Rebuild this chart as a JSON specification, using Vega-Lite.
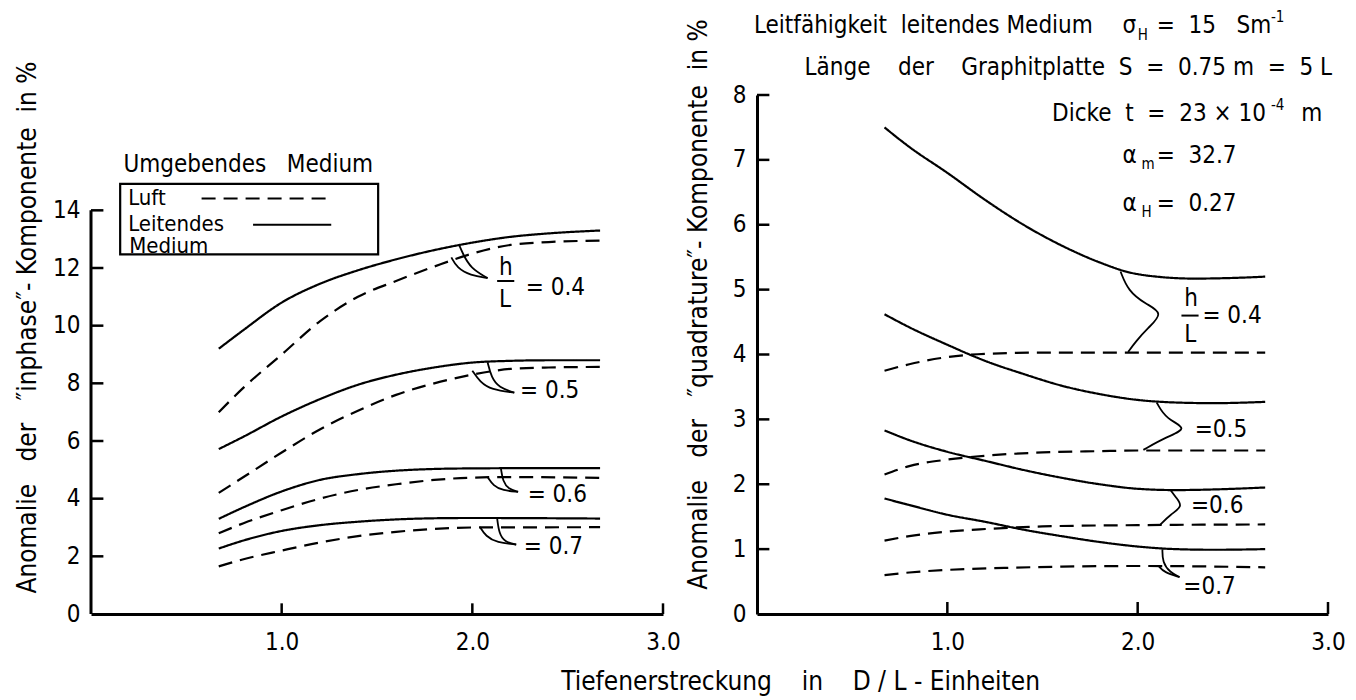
{
  "$schema": "https://vega.github.io/schema/vega-lite/v6.json",
  "background": "white",
  "padding": {"left": 13, "top": 10, "right": 5, "bottom": 5},
  "bounds": "flush",
  "spacing": 94,
  "config": {
    "font": "DejaVu Sans Condensed, Liberation Sans Narrow, Roboto, sans-serif",
    "view": {"stroke": null},
    "axis": {
      "grid": false,
      "ticks": false,
      "domainColor": "black",
      "domainWidth": 3,
      "labelFontSize": 24,
      "labelColor": "black",
      "titleFontSize": 26,
      "titleFontWeight": "normal",
      "titleColor": "black"
    },
    "axisX": {"labelPadding": 16},
    "axisY": {"labelPadding": 11},
    "text": {"fontSize": 24, "color": "black", "align": "left", "baseline": "middle"}
  },
  "title": {
    "text": "Tiefenerstreckung\u00a0\u00a0\u00a0\u00a0in\u00a0\u00a0\u00a0\u00a0D / L - Einheiten",
    "orient": "bottom",
    "anchor": "middle",
    "fontSize": 26,
    "fontWeight": "normal",
    "color": "black",
    "offset": 15,
    "dx": 121
  },
  "datasets": {
    "inphase": [
      {"h": "0.4", "m": "Leitend", "x": 0.67, "y": 9.2}, {"h": "0.4", "m": "Leitend", "x": 0.8, "y": 9.85}, {"h": "0.4", "m": "Leitend", "x": 1.0, "y": 10.8}, {"h": "0.4", "m": "Leitend", "x": 1.2, "y": 11.45}, {"h": "0.4", "m": "Leitend", "x": 1.4, "y": 11.92}, {"h": "0.4", "m": "Leitend", "x": 1.6, "y": 12.3}, {"h": "0.4", "m": "Leitend", "x": 1.8, "y": 12.62}, {"h": "0.4", "m": "Leitend", "x": 2.0, "y": 12.88}, {"h": "0.4", "m": "Leitend", "x": 2.2, "y": 13.08}, {"h": "0.4", "m": "Leitend", "x": 2.4, "y": 13.2}, {"h": "0.4", "m": "Leitend", "x": 2.67, "y": 13.3},
      {"h": "0.4", "m": "Luft", "x": 0.67, "y": 7.0}, {"h": "0.4", "m": "Luft", "x": 0.8, "y": 7.85}, {"h": "0.4", "m": "Luft", "x": 1.0, "y": 9.0}, {"h": "0.4", "m": "Luft", "x": 1.2, "y": 10.15}, {"h": "0.4", "m": "Luft", "x": 1.4, "y": 11.0}, {"h": "0.4", "m": "Luft", "x": 1.6, "y": 11.55}, {"h": "0.4", "m": "Luft", "x": 1.8, "y": 12.05}, {"h": "0.4", "m": "Luft", "x": 2.0, "y": 12.5}, {"h": "0.4", "m": "Luft", "x": 2.2, "y": 12.8}, {"h": "0.4", "m": "Luft", "x": 2.4, "y": 12.9}, {"h": "0.4", "m": "Luft", "x": 2.67, "y": 12.95},
      {"h": "0.5", "m": "Leitend", "x": 0.67, "y": 5.72}, {"h": "0.5", "m": "Leitend", "x": 0.8, "y": 6.15}, {"h": "0.5", "m": "Leitend", "x": 1.0, "y": 6.85}, {"h": "0.5", "m": "Leitend", "x": 1.2, "y": 7.45}, {"h": "0.5", "m": "Leitend", "x": 1.4, "y": 7.95}, {"h": "0.5", "m": "Leitend", "x": 1.6, "y": 8.3}, {"h": "0.5", "m": "Leitend", "x": 1.8, "y": 8.55}, {"h": "0.5", "m": "Leitend", "x": 2.0, "y": 8.72}, {"h": "0.5", "m": "Leitend", "x": 2.2, "y": 8.78}, {"h": "0.5", "m": "Leitend", "x": 2.4, "y": 8.8}, {"h": "0.5", "m": "Leitend", "x": 2.67, "y": 8.8},
      {"h": "0.5", "m": "Luft", "x": 0.67, "y": 4.2}, {"h": "0.5", "m": "Luft", "x": 0.8, "y": 4.75}, {"h": "0.5", "m": "Luft", "x": 1.0, "y": 5.6}, {"h": "0.5", "m": "Luft", "x": 1.2, "y": 6.4}, {"h": "0.5", "m": "Luft", "x": 1.4, "y": 7.05}, {"h": "0.5", "m": "Luft", "x": 1.6, "y": 7.6}, {"h": "0.5", "m": "Luft", "x": 1.8, "y": 8.0}, {"h": "0.5", "m": "Luft", "x": 2.0, "y": 8.3}, {"h": "0.5", "m": "Luft", "x": 2.2, "y": 8.5}, {"h": "0.5", "m": "Luft", "x": 2.4, "y": 8.55}, {"h": "0.5", "m": "Luft", "x": 2.67, "y": 8.57},
      {"h": "0.6", "m": "Leitend", "x": 0.67, "y": 3.3}, {"h": "0.6", "m": "Leitend", "x": 0.8, "y": 3.7}, {"h": "0.6", "m": "Leitend", "x": 1.0, "y": 4.25}, {"h": "0.6", "m": "Leitend", "x": 1.2, "y": 4.65}, {"h": "0.6", "m": "Leitend", "x": 1.4, "y": 4.85}, {"h": "0.6", "m": "Leitend", "x": 1.6, "y": 4.97}, {"h": "0.6", "m": "Leitend", "x": 1.8, "y": 5.03}, {"h": "0.6", "m": "Leitend", "x": 2.0, "y": 5.05}, {"h": "0.6", "m": "Leitend", "x": 2.4, "y": 5.06}, {"h": "0.6", "m": "Leitend", "x": 2.67, "y": 5.06},
      {"h": "0.6", "m": "Luft", "x": 0.67, "y": 2.8}, {"h": "0.6", "m": "Luft", "x": 0.8, "y": 3.15}, {"h": "0.6", "m": "Luft", "x": 1.0, "y": 3.6}, {"h": "0.6", "m": "Luft", "x": 1.2, "y": 4.0}, {"h": "0.6", "m": "Luft", "x": 1.4, "y": 4.3}, {"h": "0.6", "m": "Luft", "x": 1.6, "y": 4.5}, {"h": "0.6", "m": "Luft", "x": 1.8, "y": 4.65}, {"h": "0.6", "m": "Luft", "x": 2.0, "y": 4.73}, {"h": "0.6", "m": "Luft", "x": 2.2, "y": 4.75}, {"h": "0.6", "m": "Luft", "x": 2.67, "y": 4.72},
      {"h": "0.7", "m": "Leitend", "x": 0.67, "y": 2.27}, {"h": "0.7", "m": "Leitend", "x": 0.8, "y": 2.55}, {"h": "0.7", "m": "Leitend", "x": 1.0, "y": 2.88}, {"h": "0.7", "m": "Leitend", "x": 1.2, "y": 3.08}, {"h": "0.7", "m": "Leitend", "x": 1.4, "y": 3.2}, {"h": "0.7", "m": "Leitend", "x": 1.6, "y": 3.28}, {"h": "0.7", "m": "Leitend", "x": 1.8, "y": 3.32}, {"h": "0.7", "m": "Leitend", "x": 2.0, "y": 3.33}, {"h": "0.7", "m": "Leitend", "x": 2.67, "y": 3.31},
      {"h": "0.7", "m": "Luft", "x": 0.67, "y": 1.65}, {"h": "0.7", "m": "Luft", "x": 0.8, "y": 1.9}, {"h": "0.7", "m": "Luft", "x": 1.0, "y": 2.2}, {"h": "0.7", "m": "Luft", "x": 1.2, "y": 2.48}, {"h": "0.7", "m": "Luft", "x": 1.4, "y": 2.7}, {"h": "0.7", "m": "Luft", "x": 1.6, "y": 2.85}, {"h": "0.7", "m": "Luft", "x": 1.8, "y": 2.95}, {"h": "0.7", "m": "Luft", "x": 2.0, "y": 3.0}, {"h": "0.7", "m": "Luft", "x": 2.67, "y": 3.01}
    ],
    "quadrature": [
      {"h": "0.4", "m": "Leitend", "x": 0.67, "y": 7.5}, {"h": "0.4", "m": "Leitend", "x": 0.8, "y": 7.2}, {"h": "0.4", "m": "Leitend", "x": 1.0, "y": 6.8}, {"h": "0.4", "m": "Leitend", "x": 1.2, "y": 6.38}, {"h": "0.4", "m": "Leitend", "x": 1.4, "y": 6.0}, {"h": "0.4", "m": "Leitend", "x": 1.6, "y": 5.68}, {"h": "0.4", "m": "Leitend", "x": 1.8, "y": 5.42}, {"h": "0.4", "m": "Leitend", "x": 1.95, "y": 5.27}, {"h": "0.4", "m": "Leitend", "x": 2.1, "y": 5.2}, {"h": "0.4", "m": "Leitend", "x": 2.3, "y": 5.17}, {"h": "0.4", "m": "Leitend", "x": 2.5, "y": 5.18}, {"h": "0.4", "m": "Leitend", "x": 2.67, "y": 5.2},
      {"h": "0.4", "m": "Luft", "x": 0.67, "y": 3.75}, {"h": "0.4", "m": "Luft", "x": 0.8, "y": 3.85}, {"h": "0.4", "m": "Luft", "x": 1.0, "y": 3.96}, {"h": "0.4", "m": "Luft", "x": 1.2, "y": 4.01}, {"h": "0.4", "m": "Luft", "x": 1.5, "y": 4.03}, {"h": "0.4", "m": "Luft", "x": 2.0, "y": 4.03}, {"h": "0.4", "m": "Luft", "x": 2.67, "y": 4.03},
      {"h": "0.5", "m": "Leitend", "x": 0.67, "y": 4.62}, {"h": "0.5", "m": "Leitend", "x": 0.8, "y": 4.42}, {"h": "0.5", "m": "Leitend", "x": 1.0, "y": 4.15}, {"h": "0.5", "m": "Leitend", "x": 1.2, "y": 3.9}, {"h": "0.5", "m": "Leitend", "x": 1.4, "y": 3.7}, {"h": "0.5", "m": "Leitend", "x": 1.6, "y": 3.52}, {"h": "0.5", "m": "Leitend", "x": 1.8, "y": 3.39}, {"h": "0.5", "m": "Leitend", "x": 2.0, "y": 3.3}, {"h": "0.5", "m": "Leitend", "x": 2.2, "y": 3.26}, {"h": "0.5", "m": "Leitend", "x": 2.4, "y": 3.25}, {"h": "0.5", "m": "Leitend", "x": 2.67, "y": 3.27},
      {"h": "0.5", "m": "Luft", "x": 0.67, "y": 2.15}, {"h": "0.5", "m": "Luft", "x": 0.8, "y": 2.28}, {"h": "0.5", "m": "Luft", "x": 1.0, "y": 2.38}, {"h": "0.5", "m": "Luft", "x": 1.2, "y": 2.44}, {"h": "0.5", "m": "Luft", "x": 1.5, "y": 2.49}, {"h": "0.5", "m": "Luft", "x": 1.8, "y": 2.51}, {"h": "0.5", "m": "Luft", "x": 2.0, "y": 2.52}, {"h": "0.5", "m": "Luft", "x": 2.67, "y": 2.52},
      {"h": "0.6", "m": "Leitend", "x": 0.67, "y": 2.83}, {"h": "0.6", "m": "Leitend", "x": 0.8, "y": 2.68}, {"h": "0.6", "m": "Leitend", "x": 1.0, "y": 2.5}, {"h": "0.6", "m": "Leitend", "x": 1.2, "y": 2.36}, {"h": "0.6", "m": "Leitend", "x": 1.4, "y": 2.22}, {"h": "0.6", "m": "Leitend", "x": 1.6, "y": 2.1}, {"h": "0.6", "m": "Leitend", "x": 1.8, "y": 2.0}, {"h": "0.6", "m": "Leitend", "x": 2.0, "y": 1.93}, {"h": "0.6", "m": "Leitend", "x": 2.2, "y": 1.91}, {"h": "0.6", "m": "Leitend", "x": 2.4, "y": 1.92}, {"h": "0.6", "m": "Leitend", "x": 2.67, "y": 1.95},
      {"h": "0.6", "m": "Luft", "x": 0.67, "y": 1.13}, {"h": "0.6", "m": "Luft", "x": 0.8, "y": 1.2}, {"h": "0.6", "m": "Luft", "x": 1.0, "y": 1.27}, {"h": "0.6", "m": "Luft", "x": 1.2, "y": 1.31}, {"h": "0.6", "m": "Luft", "x": 1.5, "y": 1.35}, {"h": "0.6", "m": "Luft", "x": 2.0, "y": 1.37}, {"h": "0.6", "m": "Luft", "x": 2.67, "y": 1.38},
      {"h": "0.7", "m": "Leitend", "x": 0.67, "y": 1.78}, {"h": "0.7", "m": "Leitend", "x": 0.8, "y": 1.68}, {"h": "0.7", "m": "Leitend", "x": 1.0, "y": 1.53}, {"h": "0.7", "m": "Leitend", "x": 1.2, "y": 1.42}, {"h": "0.7", "m": "Leitend", "x": 1.4, "y": 1.3}, {"h": "0.7", "m": "Leitend", "x": 1.6, "y": 1.2}, {"h": "0.7", "m": "Leitend", "x": 1.8, "y": 1.11}, {"h": "0.7", "m": "Leitend", "x": 2.0, "y": 1.04}, {"h": "0.7", "m": "Leitend", "x": 2.2, "y": 1.0}, {"h": "0.7", "m": "Leitend", "x": 2.4, "y": 0.99}, {"h": "0.7", "m": "Leitend", "x": 2.67, "y": 1.0},
      {"h": "0.7", "m": "Luft", "x": 0.67, "y": 0.6}, {"h": "0.7", "m": "Luft", "x": 0.8, "y": 0.64}, {"h": "0.7", "m": "Luft", "x": 1.0, "y": 0.68}, {"h": "0.7", "m": "Luft", "x": 1.3, "y": 0.71}, {"h": "0.7", "m": "Luft", "x": 1.6, "y": 0.73}, {"h": "0.7", "m": "Luft", "x": 2.0, "y": 0.74}, {"h": "0.7", "m": "Luft", "x": 2.67, "y": 0.72}
    ],
    "leftHooks": [
      {"id": "a1", "o": 1, "x": 1.93, "y": 12.81}, {"id": "a1", "o": 2, "x": 1.95, "y": 12.5}, {"id": "a1", "o": 3, "x": 1.99, "y": 12.0}, {"id": "a1", "o": 4, "x": 2.08, "y": 11.65},
      {"id": "a2", "o": 1, "x": 1.89, "y": 12.37}, {"id": "a2", "o": 2, "x": 1.92, "y": 12.0}, {"id": "a2", "o": 3, "x": 1.99, "y": 11.74}, {"id": "a2", "o": 4, "x": 2.08, "y": 11.65},
      {"id": "b1", "o": 1, "x": 2.08, "y": 8.73}, {"id": "b1", "o": 2, "x": 2.1, "y": 8.2}, {"id": "b1", "o": 3, "x": 2.14, "y": 7.85}, {"id": "b1", "o": 4, "x": 2.22, "y": 7.68},
      {"id": "b2", "o": 1, "x": 2.0, "y": 8.44}, {"id": "b2", "o": 2, "x": 2.04, "y": 8.05}, {"id": "b2", "o": 3, "x": 2.1, "y": 7.78}, {"id": "b2", "o": 4, "x": 2.22, "y": 7.68},
      {"id": "c1", "o": 1, "x": 2.15, "y": 5.05}, {"id": "c1", "o": 2, "x": 2.16, "y": 4.6}, {"id": "c1", "o": 3, "x": 2.19, "y": 4.33}, {"id": "c1", "o": 4, "x": 2.24, "y": 4.24},
      {"id": "c2", "o": 1, "x": 2.08, "y": 4.75}, {"id": "c2", "o": 2, "x": 2.11, "y": 4.45}, {"id": "c2", "o": 3, "x": 2.16, "y": 4.28}, {"id": "c2", "o": 4, "x": 2.24, "y": 4.24},
      {"id": "d1", "o": 1, "x": 2.13, "y": 3.33}, {"id": "d1", "o": 2, "x": 2.14, "y": 2.8}, {"id": "d1", "o": 3, "x": 2.17, "y": 2.5}, {"id": "d1", "o": 4, "x": 2.23, "y": 2.41},
      {"id": "d2", "o": 1, "x": 2.04, "y": 3.02}, {"id": "d2", "o": 2, "x": 2.07, "y": 2.7}, {"id": "d2", "o": 3, "x": 2.13, "y": 2.47}, {"id": "d2", "o": 4, "x": 2.23, "y": 2.41}
    ],
    "rightHooks": [
      {"id": "a", "o": 1, "x": 1.91, "y": 5.28}, {"id": "a", "o": 2, "x": 1.95, "y": 4.98}, {"id": "a", "o": 3, "x": 2.04, "y": 4.78}, {"id": "a", "o": 4, "x": 2.14, "y": 4.64}, {"id": "a", "o": 5, "x": 2.05, "y": 4.4}, {"id": "a", "o": 6, "x": 1.99, "y": 4.2}, {"id": "a", "o": 7, "x": 1.95, "y": 4.04},
      {"id": "b", "o": 1, "x": 2.1, "y": 3.26}, {"id": "b", "o": 2, "x": 2.15, "y": 3.0}, {"id": "b", "o": 3, "x": 2.27, "y": 2.86}, {"id": "b", "o": 4, "x": 2.15, "y": 2.73}, {"id": "b", "o": 5, "x": 2.03, "y": 2.53},
      {"id": "c", "o": 1, "x": 2.17, "y": 1.92}, {"id": "c", "o": 2, "x": 2.2, "y": 1.8}, {"id": "c", "o": 3, "x": 2.24, "y": 1.66}, {"id": "c", "o": 4, "x": 2.17, "y": 1.53}, {"id": "c", "o": 5, "x": 2.12, "y": 1.38},
      {"id": "d1", "o": 1, "x": 2.13, "y": 1.0}, {"id": "d1", "o": 2, "x": 2.13, "y": 0.8}, {"id": "d1", "o": 3, "x": 2.17, "y": 0.64}, {"id": "d1", "o": 4, "x": 2.22, "y": 0.57},
      {"id": "d2", "o": 1, "x": 2.11, "y": 0.74}, {"id": "d2", "o": 2, "x": 2.14, "y": 0.64}, {"id": "d2", "o": 3, "x": 2.22, "y": 0.57}
    ],
    "leftLegendLines": [
      {"m": "Luft", "x": 0.58, "y": 14.41}, {"m": "Luft", "x": 1.26, "y": 14.41},
      {"m": "Leitend", "x": 0.85, "y": 13.5}, {"m": "Leitend", "x": 1.26, "y": 13.5}
    ],
    "leftLegendTexts": [
      {"x": 0.195, "y": 14.43, "t": "Luft"},
      {"x": 0.195, "y": 13.53, "t": "Leitendes"},
      {"x": 0.2, "y": 12.75, "t": "Medium"}
    ],
    "leftTexts": [
      {"x": 0.17, "y": 15.57, "t": "Umgebendes\u00a0\u00a0\u00a0Medium"},
      {"x": 2.14, "y": 12.0, "t": "h"},
      {"x": 2.14, "y": 10.9, "t": "L"},
      {"x": 2.28, "y": 11.3, "t": "= 0.4"},
      {"x": 2.25, "y": 7.72, "t": "= 0.5"},
      {"x": 2.29, "y": 4.14, "t": "= 0.6"},
      {"x": 2.27, "y": 2.32, "t": "= 0.7"}
    ],
    "rightTexts": [
      {"x": -0.016, "y": 9.06, "t": "Leitfähigkeit\u00a0\u00a0leitendes\u00a0Medium"},
      {"x": 1.92, "y": 9.06, "t": "σ"},
      {"x": 2.1, "y": 9.06, "t": "=\u00a0\u00a015\u00a0\u00a0\u00a0Sm"},
      {"x": 0.25, "y": 8.41, "t": "Länge\u00a0\u00a0\u00a0\u00a0der\u00a0\u00a0\u00a0\u00a0Graphitplatte\u00a0\u00a0S\u00a0\u00a0=\u00a0\u00a00.75\u00a0m\u00a0\u00a0=\u00a0\u00a05\u00a0L"},
      {"x": 1.55, "y": 7.7, "t": "Dicke\u00a0\u00a0t\u00a0\u00a0=\u00a0\u00a023\u00a0×\u00a010"},
      {"x": 2.86, "y": 7.7, "t": "m"},
      {"x": 1.92, "y": 7.06, "t": "α"},
      {"x": 2.1, "y": 7.06, "t": "=\u00a0\u00a032.7"},
      {"x": 1.92, "y": 6.32, "t": "α"},
      {"x": 2.1, "y": 6.32, "t": "=\u00a0\u00a00.27"},
      {"x": 2.245, "y": 4.86, "t": "h"},
      {"x": 2.245, "y": 4.3, "t": "L"},
      {"x": 2.34, "y": 4.6, "t": "= 0.4"},
      {"x": 2.3, "y": 2.84, "t": "=0.5"},
      {"x": 2.28, "y": 1.66, "t": "=0.6"},
      {"x": 2.24, "y": 0.42, "t": "=0.7"}
    ],
    "rightSmall": [
      {"x": 2.0, "y": 8.93, "t": "H"},
      {"x": 2.7, "y": 9.2, "t": "-1"},
      {"x": 2.7, "y": 7.84, "t": "-4"},
      {"x": 2.02, "y": 6.94, "t": "m"},
      {"x": 2.02, "y": 6.2, "t": "H"}
    ],
    "xTicks": [{"v": 1}, {"v": 2}, {"v": 3}],
    "leftYTicks": [{"v": 2}, {"v": 4}, {"v": 6}, {"v": 8}, {"v": 10}, {"v": 12}, {"v": 14}],
    "rightYTicks": [{"v": 1}, {"v": 2}, {"v": 3}, {"v": 4}, {"v": 5}, {"v": 6}, {"v": 7}, {"v": 8}]
  },
  "hconcat": [
    {
      "width": 572,
      "height": 519,
      "layer": [
        {
          "data": {"name": "inphase"},
          "mark": {"type": "line", "interpolate": "monotone", "color": "black", "strokeWidth": 2.2},
          "encoding": {
            "x": {"field": "x", "type": "quantitative", "scale": {"domain": [0, 3]}, "axis": {"values": [1, 2, 3], "format": ".1f", "title": null, "labelFlush": false}},
            "y": {"field": "y", "type": "quantitative", "scale": {"domain": [0, 16.04]}, "axis": {"values": [0, 2, 4, 6, 8, 10, 12, 14], "format": "d", "domain": false, "title": "Anomalie\u00a0\u00a0\u00a0der\u00a0\u00a0\u00a0″inphase″-\u00a0Komponente\u00a0\u00a0in\u00a0%", "titleX": -64, "titleY": 232, "titleBaseline": "middle"}},
            "strokeDash": {"field": "m", "type": "nominal", "scale": {"domain": ["Luft", "Leitend"], "range": [[14, 8], [1, 0]]}, "legend": null},
            "detail": {"field": "h"}
          }
        },
        {
          "data": {"name": "leftHooks"},
          "mark": {"type": "line", "interpolate": "basis", "color": "black", "strokeWidth": 1.8},
          "encoding": {
            "x": {"field": "x", "type": "quantitative"},
            "y": {"field": "y", "type": "quantitative"},
            "detail": {"field": "id"},
            "order": {"field": "o"}
          }
        },
        {
          "data": {"name": "leftLegendLines"},
          "mark": {"type": "line", "color": "black", "strokeWidth": 2.2},
          "encoding": {
            "x": {"field": "x", "type": "quantitative"},
            "y": {"field": "y", "type": "quantitative"},
            "strokeDash": {"field": "m", "type": "nominal", "legend": null}
          }
        },
        {
          "data": {"values": [{}]},
          "mark": {"type": "rect", "fillOpacity": 0, "stroke": "black", "strokeWidth": 2.2},
          "encoding": {
            "x": {"datum": 0.153, "type": "quantitative"},
            "x2": {"datum": 1.506},
            "y": {"datum": 14.92, "type": "quantitative"},
            "y2": {"datum": 12.47}
          }
        },
        {
          "data": {"values": [{}]},
          "mark": {"type": "rule", "color": "black", "strokeWidth": 3},
          "encoding": {
            "x": {"datum": 0, "type": "quantitative"},
            "y": {"datum": 0, "type": "quantitative"},
            "y2": {"datum": 14}
          }
        },
        {
          "data": {"name": "leftYTicks"},
          "mark": {"type": "rule", "color": "black", "strokeWidth": 2.5},
          "encoding": {
            "x": {"datum": 0, "type": "quantitative"},
            "x2": {"datum": 0.065},
            "y": {"field": "v", "type": "quantitative"}
          }
        },
        {
          "data": {"name": "xTicks"},
          "mark": {"type": "rule", "color": "black", "strokeWidth": 2.5},
          "encoding": {
            "x": {"field": "v", "type": "quantitative"},
            "y": {"datum": 0, "type": "quantitative"},
            "y2": {"datum": 0.37}
          }
        },
        {
          "data": {"values": [{}]},
          "mark": {"type": "rule", "color": "black", "strokeWidth": 2},
          "encoding": {
            "x": {"datum": 2.13, "type": "quantitative"},
            "x2": {"datum": 2.22},
            "y": {"datum": 11.55, "type": "quantitative"}
          }
        },
        {
          "data": {"name": "leftLegendTexts"},
          "mark": {"type": "text", "fontSize": 22},
          "encoding": {
            "x": {"field": "x", "type": "quantitative"},
            "y": {"field": "y", "type": "quantitative"},
            "text": {"field": "t"}
          }
        },
        {
          "data": {"name": "leftTexts"},
          "mark": {"type": "text"},
          "encoding": {
            "x": {"field": "x", "type": "quantitative"},
            "y": {"field": "y", "type": "quantitative"},
            "text": {"field": "t"}
          }
        }
      ]
    },
    {
      "width": 571,
      "height": 519,
      "layer": [
        {
          "data": {"name": "quadrature"},
          "mark": {"type": "line", "interpolate": "monotone", "color": "black", "strokeWidth": 2.2},
          "encoding": {
            "x": {"field": "x", "type": "quantitative", "scale": {"domain": [0, 3]}, "axis": {"values": [1, 2, 3], "format": ".1f", "title": null, "labelFlush": false}},
            "y": {"field": "y", "type": "quantitative", "scale": {"domain": [0, 8]}, "axis": {"values": [0, 1, 2, 3, 4, 5, 6, 7, 8], "format": "d", "title": "Anomalie\u00a0\u00a0\u00a0der\u00a0\u00a0\u00a0″quadrature″-\u00a0Komponente\u00a0\u00a0in\u00a0%", "titleX": -59, "titleY": 209, "titleBaseline": "middle"}},
            "strokeDash": {"field": "m", "type": "nominal", "scale": {"domain": ["Luft", "Leitend"], "range": [[14, 8], [1, 0]]}, "legend": null},
            "detail": {"field": "h"}
          }
        },
        {
          "data": {"name": "rightHooks"},
          "mark": {"type": "line", "interpolate": "basis", "color": "black", "strokeWidth": 1.8},
          "encoding": {
            "x": {"field": "x", "type": "quantitative"},
            "y": {"field": "y", "type": "quantitative"},
            "detail": {"field": "id"},
            "order": {"field": "o"}
          }
        },
        {
          "data": {"name": "rightYTicks"},
          "mark": {"type": "rule", "color": "black", "strokeWidth": 2.5},
          "encoding": {
            "x": {"datum": 0, "type": "quantitative"},
            "x2": {"datum": 0.065},
            "y": {"field": "v", "type": "quantitative"}
          }
        },
        {
          "data": {"name": "xTicks"},
          "mark": {"type": "rule", "color": "black", "strokeWidth": 2.5},
          "encoding": {
            "x": {"field": "v", "type": "quantitative"},
            "y": {"datum": 0, "type": "quantitative"},
            "y2": {"datum": 0.185}
          }
        },
        {
          "data": {"values": [{}]},
          "mark": {"type": "rule", "color": "black", "strokeWidth": 2},
          "encoding": {
            "x": {"datum": 2.23, "type": "quantitative"},
            "x2": {"datum": 2.32},
            "y": {"datum": 4.6, "type": "quantitative"}
          }
        },
        {
          "data": {"name": "rightTexts"},
          "mark": {"type": "text"},
          "encoding": {
            "x": {"field": "x", "type": "quantitative"},
            "y": {"field": "y", "type": "quantitative"},
            "text": {"field": "t"}
          }
        },
        {
          "data": {"name": "rightSmall"},
          "mark": {"type": "text", "fontSize": 15},
          "encoding": {
            "x": {"field": "x", "type": "quantitative"},
            "y": {"field": "y", "type": "quantitative"},
            "text": {"field": "t"}
          }
        }
      ]
    }
  ]
}
